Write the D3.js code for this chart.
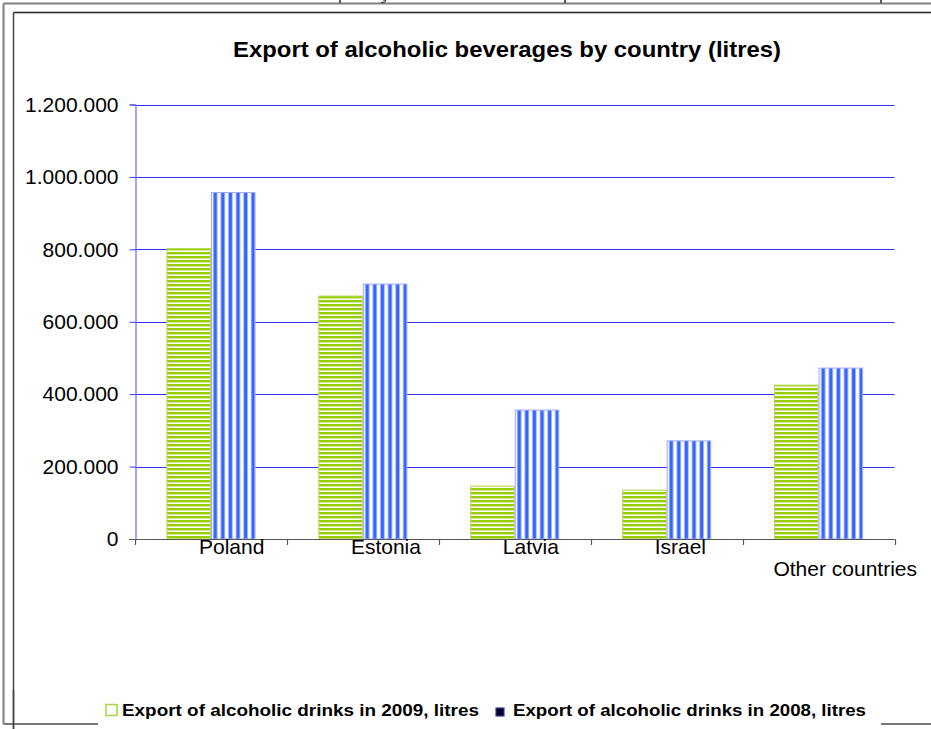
<!DOCTYPE html>
<html>
<head>
<meta charset="utf-8">
<script src="https://cdn.jsdelivr.net/npm/d3@7"></script>
<style>
  html, body { margin: 0; padding: 0; background: #fff; }
  svg { display: block; }
  text { font-family: "Liberation Sans", Arial, sans-serif; }
</style>
</head>
<body>
<svg id="chart" width="931" height="729"></svg>
<script>
const categories = ["Poland", "Estonia", "Latvia", "Israel", "Other countries"];
const seriesNames = ["Export of alcoholic drinks in 2009, litres", "Export of alcoholic drinks in 2008, litres"];
const values2009 = [802000, 671000, 146000, 135000, 425000];
const values2008 = [957000, 704000, 356000, 271000, 472000];
const yTicks = [0, 200000, 400000, 600000, 800000, 1000000, 1200000];
const title = "Export of alcoholic beverages by country (litres)";

const svg = d3.select("#chart");
const W = 931, H = 729;
const plot = { left: 135, right: 894.5, top: 104.5, bottom: 539 };

// patterns
const defs = svg.append("defs");
const pg = defs.append("pattern").attr("id", "pGreen").attr("patternUnits", "userSpaceOnUse")
  .attr("width", 8).attr("height", 4);
pg.append("rect").attr("x", 0).attr("y", 0).attr("width", 8).attr("height", 4).attr("fill", "#ffffff");
pg.append("rect").attr("x", 0).attr("y", 0).attr("width", 8).attr("height", 2).attr("fill", "#99cc00");
pg.append("rect").attr("x", 0).attr("y", 2).attr("width", 8).attr("height", 1).attr("fill", "#d2e999");
const pb = defs.append("pattern").attr("id", "pBlue").attr("patternUnits", "userSpaceOnUse")
  .attr("width", 7.6).attr("height", 8);
pb.append("rect").attr("x", 0).attr("y", 0).attr("width", 7.6).attr("height", 8).attr("fill", "#ffffff");
pb.append("rect").attr("x", 0).attr("y", 0).attr("width", 1).attr("height", 8).attr("fill", "#9fb2ff");
pb.append("rect").attr("x", 1).attr("y", 0).attr("width", 2.8).attr("height", 8).attr("fill", "#3366ff");
pb.append("rect").attr("x", 3.8).attr("y", 0).attr("width", 1).attr("height", 8).attr("fill", "#9fb2ff");

// frame lines
const frame = svg.append("g");
frame.append("line").attr("x1", 3.5).attr("y1", 3.5).attr("x2", 3.5).attr("y2", 724).attr("stroke", "#808080").attr("stroke-width", 2);
frame.append("line").attr("x1", 3.5).attr("y1", 3.5).attr("x2", W).attr("y2", 3.5).attr("stroke", "#808080").attr("stroke-width", 2);
frame.append("line").attr("x1", 3.5).attr("y1", 724).attr("x2", W).attr("y2", 724).attr("stroke", "#777").attr("stroke-width", 2);
frame.append("line").attr("x1", 13.5).attr("y1", 12.5).attr("x2", 13.5).attr("y2", H).attr("stroke", "#444").attr("stroke-width", 1.5);
frame.append("line").attr("x1", 13.5).attr("y1", 12.5).attr("x2", W).attr("y2", 12.5).attr("stroke", "#222").attr("stroke-width", 1.5);
[340, 565, 881].forEach(x => {
  frame.append("line").attr("x1", x).attr("y1", 0).attr("x2", x).attr("y2", 3).attr("stroke", "#222").attr("stroke-width", 1.5);
});
frame.append("path").attr("d", "M383,0 L386,0 L385,2 L381,2.5").attr("fill", "none").attr("stroke", "#222").attr("stroke-width", 1);

// title
svg.append("text").attr("x", 507).attr("y", 57).attr("text-anchor", "middle")
  .attr("font-size", 22).attr("font-weight", "bold").attr("fill", "#000")
  .attr("textLength", 548).attr("lengthAdjust", "spacingAndGlyphs").text(title);

// scales
const y = d3.scaleLinear().domain([0, 1200000]).range([plot.bottom, plot.top]);
const x = d3.scaleBand().domain(categories).range([plot.left, plot.right]).paddingInner(0).paddingOuter(0);
const x1 = d3.scaleBand().domain(seriesNames).range([0, x.bandwidth()]).paddingInner(0).paddingOuter(0.705);

// gridlines
svg.append("g").selectAll("line").data(yTicks.filter(d => d > 0)).join("line")
  .attr("x1", plot.left).attr("x2", plot.right)
  .attr("y1", d => Math.round(y(d)) + 0.5).attr("y2", d => Math.round(y(d)) + 0.5)
  .attr("stroke", "#3333ff").attr("stroke-width", 1);

// bars
const rows = categories.map((c, i) => ({ cat: c, vals: [values2009[i], values2008[i]] }));
const fills = ["url(#pGreen)", "url(#pBlue)"];
const strokes = ["#b5da55", "#a0a8ff"];
const g = svg.append("g");
rows.forEach(r => {
  r.vals.forEach((v, j) => {
    g.append("rect")
      .attr("x", x(r.cat) + x1(seriesNames[j]) + 0.5)
      .attr("y", y(v))
      .attr("width", x1.bandwidth() - 1)
      .attr("height", y(0) - y(v))
      .attr("fill", fills[j])
      .attr("stroke", strokes[j]).attr("stroke-width", 1);
  });
});

// y axis
const fmt = d => d3.format(",")(d).replace(/,/g, ".");
const yAxis = svg.append("g").attr("transform", `translate(${plot.left + 0.5},0)`)
  .call(d3.axisLeft(y).tickValues(yTicks).tickFormat(fmt).tickSize(6).tickPadding(11));
yAxis.select(".domain").attr("stroke", "#6b6bff").attr("stroke-width", 1.2);
yAxis.selectAll(".tick line").attr("stroke", "#3333ff");
yAxis.selectAll(".tick text").attr("font-size", 21).attr("fill", "#000")
  .attr("font-family", "Liberation Sans, Arial, sans-serif");

// x axis baseline and ticks
const xa = svg.append("g");
xa.append("line").attr("x1", plot.left - 6).attr("x2", plot.right).attr("y1", plot.bottom + 0.5).attr("y2", plot.bottom + 0.5)
  .attr("stroke", "#555").attr("stroke-width", 1.2);
const bounds = categories.map(c => x(c)).concat([plot.right]);
xa.selectAll("line.t").data(bounds).join("line").attr("class", "t")
  .attr("x1", d => Math.round(d) + 0.5).attr("x2", d => Math.round(d) + 0.5)
  .attr("y1", plot.bottom).attr("y2", plot.bottom + 6).attr("stroke", "#555").attr("stroke-width", 1.2);

// category labels
categories.forEach(c => {
  const t = xa.append("text").attr("font-size", 21).attr("fill", "#000").text(c);
  const w = t.node().getComputedTextLength();
  let lx = x(c) + 64, ly = 554;
  if (lx + w > W - 5) { lx = 917 - w; ly = 576; }
  t.attr("x", lx).attr("y", ly);
});

// legend
const leg = svg.append("g");
leg.append("rect").attr("x", 98).attr("y", 690).attr("width", 783).attr("height", 39).attr("fill", "#fff");
leg.append("line").attr("x1", 13.5).attr("y1", 690).attr("x2", 13.5).attr("y2", H).attr("stroke", "#444").attr("stroke-width", 1.5);
leg.append("rect").attr("x", 106).attr("y", 704.5).attr("width", 11).attr("height", 11)
  .attr("fill", "#fff").attr("stroke", "#a6d63c").attr("stroke-width", 1.5);
leg.append("text").attr("x", 122).attr("y", 716).attr("font-size", 17).attr("font-weight", "bold")
  .attr("textLength", 357).attr("lengthAdjust", "spacingAndGlyphs").text(seriesNames[0]);
leg.append("rect").attr("x", 496).attr("y", 708).attr("width", 8).attr("height", 8)
  .attr("fill", "#000022").attr("stroke", "#3a3aa8").attr("stroke-width", 1.2);
leg.append("text").attr("x", 513).attr("y", 716).attr("font-size", 17).attr("font-weight", "bold")
  .attr("textLength", 353).attr("lengthAdjust", "spacingAndGlyphs").text(seriesNames[1]);
</script>
</body>
</html>
